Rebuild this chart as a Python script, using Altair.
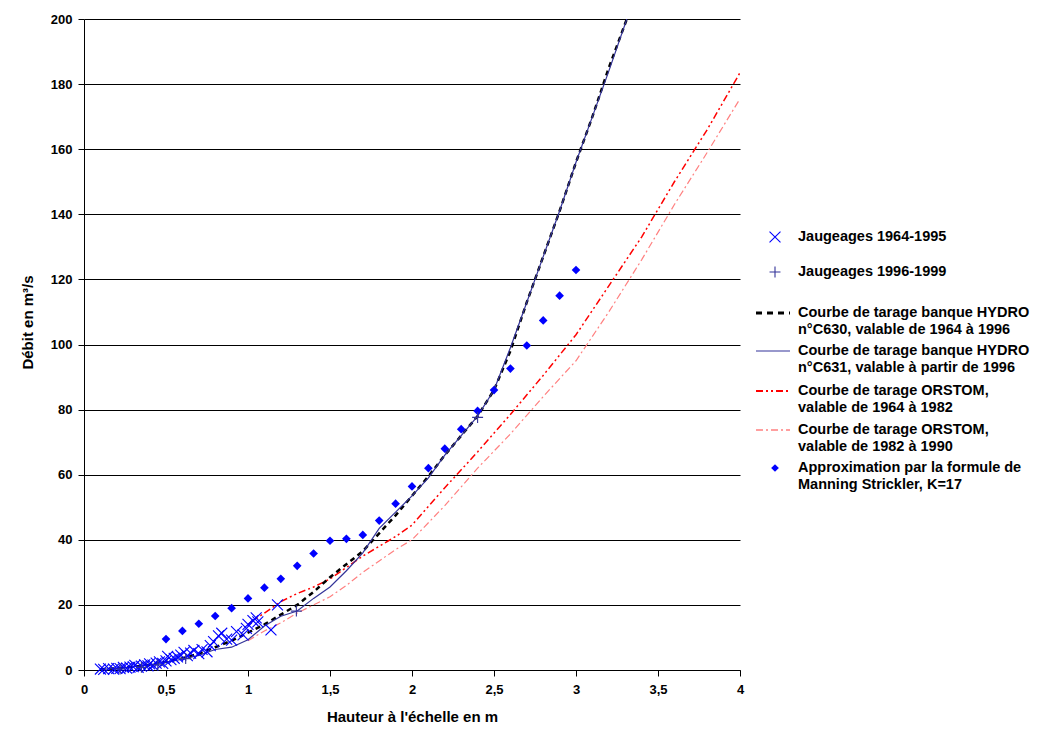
import altair as alt
import pandas as pd

# ---------------- data ----------------
# Jaugeages 1964-1995 (x marks)
j1_h = [0.10, 0.12, 0.15, 0.18, 0.20, 0.22, 0.24, 0.26, 0.28, 0.30, 0.31, 0.33, 0.35, 0.37,
        0.39, 0.40, 0.42, 0.44, 0.46, 0.48, 0.50, 0.51, 0.53, 0.55, 0.57, 0.59, 0.61, 0.63,
        0.65, 0.67, 0.70, 0.72, 0.75, 0.77, 0.79, 0.82, 0.84, 0.87, 0.90, 0.93, 0.97, 0.99,
        1.00, 1.03, 1.05, 1.06, 1.14, 1.18]
j1_q = [0.3, 0.2, 0.4, 0.3, 0.5, 0.4, 0.8, 0.6, 0.9, 1.0, 1.4, 0.8, 1.2, 1.6,
        1.3, 1.9, 1.5, 2.1, 2.5, 2.0, 2.8, 4.2, 3.2, 3.6, 4.0, 4.6, 5.4, 4.4,
        5.2, 6.0, 5.0, 6.3, 5.6, 7.5, 8.7, 10.5, 11.3, 9.5, 9.2, 11.8, 10.8, 12.8,
        14.0, 15.2, 16.0, 14.8, 12.3, 20.0]

# Jaugeages 1996-1999 (+ marks)
j2_h = [0.22, 0.35, 0.45, 0.62, 1.295, 2.40]
j2_q = [0.3, 0.8, 1.6, 3.5, 18.1, 77.6]

# Courbe HYDRO C630
c630_h = [0.1, 0.2, 0.3, 0.4, 0.5, 0.6, 0.7, 0.8, 0.9, 1.0, 1.1, 1.2, 1.3, 1.4, 1.5, 1.6, 1.7,
          1.8, 1.9, 2.0, 2.1, 2.2, 2.3, 2.4, 2.5, 2.6, 2.7, 2.8, 2.9, 3.0, 3.1, 3.2, 3.31]
c630_q = [0.2, 0.5, 1.0, 1.6, 2.5, 3.6, 5.0, 7.0, 9.0, 11.5, 14.0, 17.0, 20.0, 24.0, 28.5, 32.5,
          36.5, 42.0, 47.5, 53.5, 59.5, 66.0, 72.0, 78.0, 86.0, 98.0, 113.0, 127.0, 141.0,
          156.0, 170.0, 185.0, 200.0]

# Courbe HYDRO C631
c631_h = [0.1, 0.2, 0.3, 0.4, 0.5, 0.6, 0.7, 0.8, 0.9, 1.0, 1.1, 1.2, 1.3, 1.4, 1.5, 1.6, 1.7,
          1.8, 1.9, 2.0, 2.1, 2.2, 2.3, 2.4, 2.5, 2.6, 2.7, 2.8, 2.9, 3.0, 3.1, 3.2, 3.31]
c631_q = [0.2, 0.5, 1.0, 1.6, 2.4, 3.3, 4.5, 6.3, 7.0, 9.3, 13.5, 16.5, 18.1, 22.0, 25.5, 30.5,
          36.0, 43.5, 48.5, 53.5, 59.0, 66.0, 72.0, 78.0, 86.0, 99.0, 113.0, 127.0, 141.0,
          156.0, 170.0, 184.0, 200.0]

# Courbe ORSTOM 1964-1982
or1_h = [1.0, 1.1, 1.2, 1.3, 1.4, 1.5, 1.6, 1.7, 1.8, 1.9, 2.0, 2.2, 2.4, 2.6, 2.8, 3.0, 3.2,
         3.4, 3.6, 3.8, 4.0]
or1_q = [14.0, 17.5, 21.0, 23.5, 25.5, 28.0, 31.5, 35.0, 38.0, 41.0, 44.5, 56.0, 67.0, 78.5,
         90.5, 103.0, 118.0, 133.0, 150.0, 166.0, 183.5]

# Courbe ORSTOM 1982-1990
or2_h = [1.0, 1.1, 1.2, 1.3, 1.4, 1.5, 1.6, 1.7, 1.8, 1.9, 2.0, 2.2, 2.4, 2.6, 2.8, 3.0, 3.2,
         3.4, 3.6, 3.8, 4.0]
or2_q = [9.0, 12.0, 14.5, 17.5, 20.0, 22.5, 26.0, 30.0, 33.5, 37.0, 40.0, 50.5, 62.0, 72.5,
         84.0, 95.0, 110.0, 126.0, 143.0, 159.0, 175.5]

# Approximation Manning Strickler K=17
ms_h = [0.5, 0.6, 0.7, 0.8, 0.9, 1.0, 1.1, 1.2, 1.3, 1.4, 1.5, 1.6, 1.7, 1.8, 1.9, 2.0, 2.1,
        2.2, 2.3, 2.4, 2.5, 2.6, 2.7, 2.8, 2.9, 3.0]
ms_q = [9.5, 12.0, 14.2, 16.6, 19.0, 22.0, 25.3, 28.0, 32.0, 35.8, 39.7, 40.3, 41.5, 45.9, 51.1,
        56.4, 62.0, 68.0, 74.0, 79.6, 86.0, 92.6, 99.7, 107.4, 115.0, 122.9]

legend_labels = [
    ["Jaugeages 1964-1995"],
    ["Jaugeages 1996-1999"],
    ["Courbe de tarage banque HYDRO", "n°C630, valable de 1964 à 1996"],
    ["Courbe de tarage banque HYDRO", "n°C631, valable à partir de 1996"],
    ["Courbe de tarage ORSTOM,", "valable de 1964 à 1982"],
    ["Courbe de tarage ORSTOM,", "valable de 1982 à 1990"],
    ["Approximation par la formule de", "Manning Strickler, K=17"],
]

x_ticks = [0, 0.5, 1, 1.5, 2, 2.5, 3, 3.5, 4]
y_ticks = [0, 20, 40, 60, 80, 100, 120, 140, 160, 180, 200]

# ---------------- styles ----------------
FONT = "Liberation Sans"
XMARK = "M-1,-1L1,1M-1,1L1,-1"
PLUS = "M-1,0L1,0M0,-1L0,1"
BLUE = "#0000FF"
NAVY = "#333399"
RED = "#FF0000"
PINK = "#FF8080"
DASH_BLACK = [5, 4]
DASH_RED = [7, 3, 2, 3, 2, 3]
DASH_PINK = [7, 3, 2, 3]

W, H = 656, 651

xscale = alt.Scale(domain=[0, 4], nice=False, zero=True)
yscale = alt.Scale(domain=[0, 200], nice=False)

xaxis = alt.Axis(values=x_ticks, grid=False, title="Hauteur à l'échelle en m",
                 labelExpr="replace(toString(datum.value), '.', ',')",
                 labelFont=FONT, labelFontSize=13, labelFontWeight="bold", labelColor="black",
                 titleFont=FONT, titleFontSize=15, titleFontWeight="bold", titleColor="black",
                 domainColor="black", tickColor="black", tickSize=6, labelPadding=7,
                 titlePadding=13, labelFlush=False)
yaxis = alt.Axis(values=y_ticks, grid=True, gridColor="black", gridOpacity=1, gridWidth=1,
                 title="Débit en m³/s", titleY=303,
                 labelFont=FONT, labelFontSize=13, labelFontWeight="bold", labelColor="black",
                 titleFont=FONT, titleFontSize=15, titleFontWeight="bold", titleColor="black",
                 domainColor="black", tickColor="black", tickSize=6, labelPadding=6,
                 titlePadding=15)

X = alt.X("h:Q", scale=xscale, axis=xaxis)
Y = alt.Y("q:Q", scale=yscale, axis=yaxis)


def line_layer(h, q, color, width, dash=None):
    df = pd.DataFrame({"h": h, "q": q})
    kw = dict(color=color, strokeWidth=width, clip=True)
    if dash:
        kw["strokeDash"] = dash
    return alt.Chart(df).mark_line(**kw).encode(x=X, y=Y)


def point_layer(h, q, **kw):
    return alt.Chart(pd.DataFrame({"h": h, "q": q})).mark_point(opacity=1, **kw).encode(x=X, y=Y)


l_or2 = line_layer(or2_h, or2_q, PINK, 1.2, DASH_PINK)
l_or1 = line_layer(or1_h, or1_q, RED, 1.5, DASH_RED)
l_c630 = line_layer(c630_h, c630_q, "black", 2.5, DASH_BLACK)
l_c631 = line_layer(c631_h, c631_q, NAVY, 1.2)

p_ms = point_layer(ms_h, ms_q, shape="diamond", filled=True, color=BLUE, size=75)
p_j1 = point_layer(j1_h, j1_q, shape=XMARK, filled=False, color=BLUE, strokeWidth=1.1, size=120)
p_j2 = point_layer(j2_h, j2_q, shape=PLUS, filled=False, color=NAVY, strokeWidth=1.1, size=120)

# ---------------- manual legend (pixel positions in view space) ----------------
LEG_SYM_X = 691
LEG_LINE_X0, LEG_LINE_X1 = 672, 706
LEG_TEXT_X = 714
LEG_ROW_Y = [218, 253, 294, 332, 372, 411, 449]
LEG_LINE_GAP = 17

text_rows = []
for i, lines in enumerate(legend_labels):
    for j, t in enumerate(lines):
        text_rows.append({"t": t, "px": LEG_TEXT_X, "py": LEG_ROW_Y[i] + j * LEG_LINE_GAP})
leg_text = alt.Chart(pd.DataFrame(text_rows)).mark_text(
    align="left", baseline="middle", font=FONT, fontSize=14.5, fontWeight="bold", color="black"
).encode(x=alt.X("px:Q", scale=None), y=alt.Y("py:Q", scale=None), text="t:N")

leg_df = pd.DataFrame({"k": [0]})


def leg_sym(shape, color, size, y, filled):
    return alt.Chart(leg_df).mark_point(
        shape=shape, filled=filled, color=color, size=size, strokeWidth=1.1, opacity=1
    ).encode(x=alt.value(LEG_SYM_X), y=alt.value(y))


def leg_line(color, width, y, dash=None):
    kw = dict(color=color, strokeWidth=width)
    if dash:
        kw["strokeDash"] = dash
    return alt.Chart(leg_df).mark_rule(**kw).encode(
        x=alt.value(LEG_LINE_X0), x2=alt.value(LEG_LINE_X1), y=alt.value(y))


legend_layers = [
    leg_sym(XMARK, BLUE, 120, LEG_ROW_Y[0], False),
    leg_sym(PLUS, NAVY, 120, LEG_ROW_Y[1], False),
    leg_line("black", 3, LEG_ROW_Y[2], [6, 5]),
    leg_line(NAVY, 1.2, LEG_ROW_Y[3]),
    leg_line(RED, 2, LEG_ROW_Y[4], DASH_RED),
    leg_line(PINK, 1.5, LEG_ROW_Y[5], DASH_PINK),
    leg_sym("diamond", BLUE, 60, LEG_ROW_Y[6], True),
]

chart = alt.layer(
    l_or2, l_or1, l_c630, l_c631, p_ms, p_j1, p_j2, leg_text, *legend_layers
).properties(
    width=W, height=H,
    autosize=alt.AutoSizeParams(type="none"),
    padding={"left": 76, "top": 11, "right": 297, "bottom": 57},
    view=alt.ViewBackground(stroke="transparent", strokeWidth=0),
).configure(background="white").configure_view(stroke="transparent", strokeWidth=0)

chart.save("out.html", embed_options={"renderer": "svg", "actions": False})
